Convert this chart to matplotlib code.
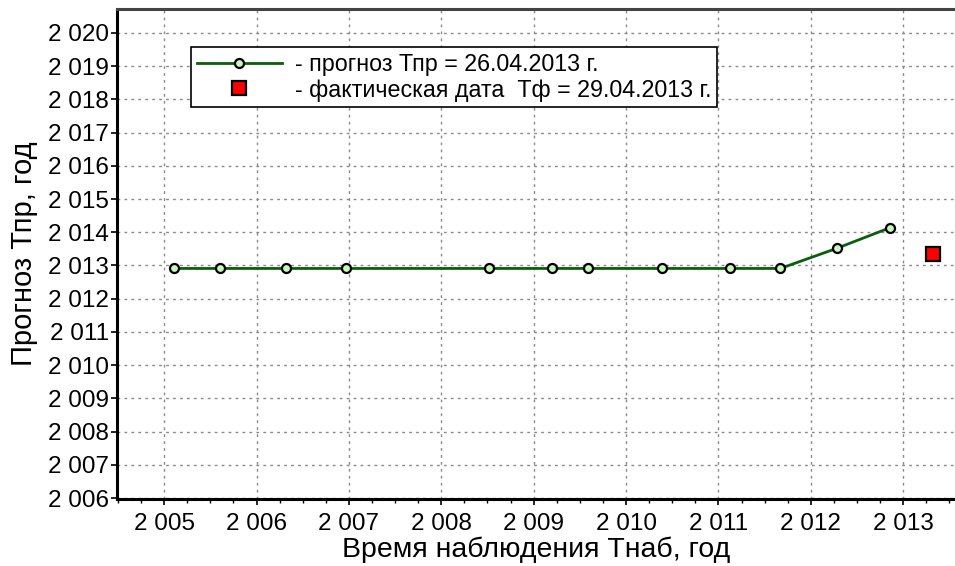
import matplotlib
matplotlib.use("Agg")
import matplotlib.pyplot as plt
from matplotlib.ticker import MultipleLocator, FuncFormatter

plt.rcParams['font.family'] = ['Liberation Sans', 'DejaVu Sans']

# Data
obs_time = [2005.105, 2005.61, 2006.32, 2006.97, 2008.52, 2009.20, 2009.59,
            2010.39, 2011.12, 2011.67, 2012.28, 2012.86]
forecast = [2012.91, 2012.91, 2012.91, 2012.91, 2012.91, 2012.91, 2012.91,
            2012.91, 2012.91, 2012.91, 2013.515, 2014.14]
actual_x = [2013.32]
actual_y = [2013.33]

label_forecast = "- прогноз Тпр = 26.04.2013 г."
label_actual = "- фактическая дата  Тф = 29.04.2013 г."
xlabel = "Время наблюдения Тнаб, год"
ylabel = "Прогноз Тпр, год"

W, H = 955, 566
fig = plt.figure(figsize=(W / 100, H / 100), dpi=100)
ax = fig.add_axes([117 / W, (H - 499) / H, (955 - 117) / W, (499 - 9) / H])

ax.plot(obs_time, forecast, color='#0b5e0b', lw=2, marker='o', markersize=6.5,
        markerfacecolor='#c8f5c0', markeredgecolor='black', markeredgewidth=1.6,
        label=label_forecast, zorder=3)
ax.plot(actual_x, actual_y, linestyle='none', marker='s', markersize=10,
        markerfacecolor='#ff0000', markeredgecolor='black', markeredgewidth=1.6,
        label=label_actual, zorder=3)

ax.set_xlim(2004.49, 2013.56)
ax.set_ylim(2005.97, 2020.72)

fmt = FuncFormatter(lambda v, p: f"{int(round(v)):,}".replace(",", " "))
ax.xaxis.set_major_locator(MultipleLocator(1))
ax.xaxis.set_minor_locator(MultipleLocator(0.25))
ax.yaxis.set_major_locator(MultipleLocator(1))
ax.xaxis.set_major_formatter(fmt)
ax.yaxis.set_major_formatter(fmt)

ax.tick_params(axis='both', which='major', labelsize=17.5, direction='out',
               length=4, width=1.2, color='black')
ax.tick_params(axis='x', which='minor', direction='out', length=3, width=1)
ax.tick_params(axis='y', pad=2)
ax.tick_params(axis='x', pad=6)

ax.grid(True, which='major', color='#8a8a8a', linestyle=(0, (2, 3)), linewidth=1)

for s in ['left', 'bottom']:
    ax.spines[s].set_linewidth(2.2)
    ax.spines[s].set_color('black')
ax.spines['top'].set_linewidth(2.2)
ax.spines['top'].set_color('#444444')
ax.spines['right'].set_visible(False)

ax.set_xlabel(xlabel, fontsize=20.5, labelpad=1)
ax.set_ylabel(ylabel, fontsize=21, labelpad=7)

leg = ax.legend(loc='upper left', bbox_to_anchor=(74 / 838, 1 - 38 / 490),
                fontsize=16.75, frameon=True, fancybox=False, framealpha=1,
                edgecolor='black', handlelength=3.65, borderpad=0.25,
                labelspacing=0.12, handletextpad=0.56, borderaxespad=0)
leg.get_frame().set_linewidth(1.2)

fig.savefig("out.png", dpi=100)
